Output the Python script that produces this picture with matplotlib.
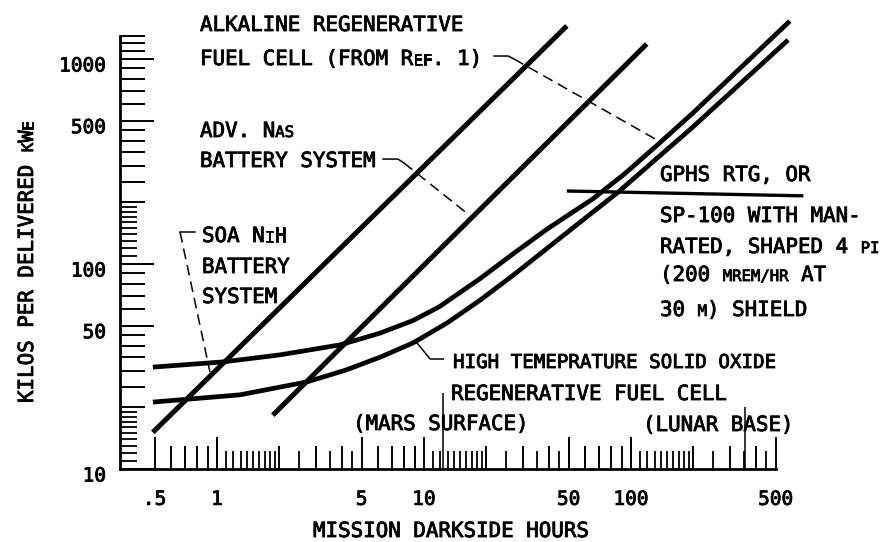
import numpy as np
import matplotlib
matplotlib.use('Agg')
import matplotlib.pyplot as plt
import matplotlib.patheffects as pe
from matplotlib.ticker import FixedLocator, NullFormatter, NullLocator
from matplotlib.transforms import ScaledTranslation

plt.rcParams['font.family'] = ['DejaVu Sans Mono', 'DejaVu Sans']

W, H, DPI = 890, 542, 100
ADV = 0.602   # advance of one glyph in DejaVu Sans Mono, in em
HEAVY = [pe.withStroke(linewidth=0.6, foreground='black')]

# ---- data (hours, kg per kWe) ----
nih_hours = [0.49, 49]
nih_kg = [15.1, 1450]

nas_hours = [1.86, 119]
nas_kg = [18.3, 1183]

alk_hours = [0.49, 1.07, 2.0, 3.93, 6.13, 8.85, 11.9, 18.7, 26.9, 39.3, 65.5,
             93, 133, 199, 585]
alk_kg = [31.4, 33.3, 36.0, 40.3, 46.0, 53.0, 62.0, 85.0, 112, 148, 208,
          275, 378, 545, 1531]

sofc_hours = [0.49, 1.29, 2.72, 4.2, 6.13, 8.85, 12.9, 18.7, 26.9, 56.8, 86.6,
              199, 574]
sofc_kg = [21.2, 23.0, 26.6, 30.4, 35.1, 41.2, 51.5, 66.7, 88.0, 160, 224,
           466, 1239]

gphs_hours = [49, 680]
gphs_kg = [227, 215]

mars_night = 12.3
lunar_night = 354

# ---- axis ticks ----
x_major = [0.5, 1, 5, 10, 50, 100, 500]
x_labels = ['.5', '1', '5', '10', '50', '100', '500']
x_mid = [0.6, 0.7, 0.8, 0.9, 2, 3, 4, 6, 7, 8, 9, 20, 30, 40, 60, 70, 80, 90,
         200, 300, 400]
x_short = [1.1, 1.2, 1.3, 1.4, 1.5, 1.6, 1.7, 1.8, 1.9, 2.5, 3.5, 4.5,
           11, 12, 13, 14, 15, 16, 17, 18, 19, 25, 35, 45,
           110, 120, 130, 140, 150, 160, 170, 180, 190, 250, 350, 450]

y_major = [10, 50, 100, 500, 1000]
y_labels = ['10', '50', '100', '500', '1000']
y_mid = [20, 25, 30, 35, 40, 45, 60, 70, 80, 90,
         200, 250, 300, 350, 400, 450, 600, 700, 800, 900, 1100, 1200, 1300]
y_short = [11, 12, 13, 14, 15, 16, 17, 18, 19,
           110, 120, 130, 140, 150, 160, 170, 180, 190]

PX = 72 / DPI   # points per pixel

fig = plt.figure(figsize=(W / DPI, H / DPI), dpi=DPI)
ax = fig.add_axes([120 / W, 1 - 469 / H, 750 / W, 464 / H])
ax.set_xscale('log')
ax.set_yscale('log')

line = dict(color='black', solid_joinstyle='round', solid_capstyle='butt')
ax.plot(nih_hours, nih_kg, lw=3.6, **line)
ax.plot(nas_hours, nas_kg, lw=3.6, **line)
ax.plot(alk_hours, alk_kg, lw=3.4, **line)
ax.plot(sofc_hours, sofc_kg, lw=3.4, **line)
ax.plot(gphs_hours, gphs_kg, lw=2.4, **line)

# mission markers
ax.vlines([mars_night], 10, 23.5, color='black', lw=1.1)
ax.vlines([lunar_night], 10, 20, color='black', lw=1.1)

# leaders
lead = dict(color='black', lw=1.1, clip_on=False)
dash = (0, (7, 4))
# alkaline
ax.plot([21.8, 25.5, 27.2], [1034, 1034, 1000], **lead)
ax.plot([27.2, 133.6], [1000, 402.6], ls=dash, **lead)
# NaS
ax.plot([6.34, 7.49, 8.0], [325, 325, 311], **lead)
ax.plot([8.0, 16.1], [311, 177], ls=dash, **lead)
# NiH
ax.plot([0.783, 0.663], [143, 143], **lead)
ax.plot([0.663, 0.925], [143, 29.7], ls=dash, **lead)
# SOFC
ax.plot([9.25, 10.7, 12.4], [41.2, 34.4, 34.4], **lead)

ax.set_xlim(0.34, 1427)
ax.set_ylim(10, 1834)

for s in ['top', 'right']:
    ax.spines[s].set_visible(False)
ax.spines['left'].set_bounds(10, 1300)
ax.spines['bottom'].set_bounds(0.34, 500)
ax.spines['left'].set_linewidth(2.0)
ax.spines['bottom'].set_linewidth(2.0)

ax.set_xticks(x_major, labels=x_labels)
ax.xaxis.set_minor_locator(FixedLocator(x_mid))
ax.xaxis.set_minor_formatter(NullFormatter())
ax.set_yticks(y_major, labels=y_labels)
ax.yaxis.set_minor_locator(FixedLocator(y_mid))
ax.yaxis.set_minor_formatter(NullFormatter())

ax.tick_params(axis='x', which='major', direction='in', length=32 * PX,
               width=1.4, pad=15, labelsize=14)
ax.tick_params(axis='x', which='minor', direction='in', length=23 * PX, width=1.4)
ax.tick_params(axis='y', which='major', direction='in', length=34 * PX,
               width=1.4, pad=10, labelsize=14)
ax.tick_params(axis='y', which='minor', direction='in', length=25 * PX, width=1.4)

# third, shorter set of ticks
sx = ax.secondary_xaxis('bottom')
sx.set_xticks(x_short)
sx.xaxis.set_major_formatter(NullFormatter())
sx.xaxis.set_minor_locator(NullLocator())
sx.tick_params(axis='x', which='major', direction='in', length=18 * PX, width=1.3)
sx.tick_params(axis='x', which='minor', length=0)
sx.spines['bottom'].set_visible(False)

sy = ax.secondary_yaxis('left')
sy.set_yticks(y_short)
sy.yaxis.set_major_formatter(NullFormatter())
sy.yaxis.set_minor_locator(NullLocator())
sy.tick_params(axis='y', which='major', direction='in', length=17 * PX, width=1.3)
sy.tick_params(axis='y', which='minor', length=0)
sy.spines['left'].set_visible(False)

shift = ScaledTranslation(0, -5 / DPI, fig.dpi_scale_trans)
for lab in ax.get_yticklabels():
    lab.set_transform(lab.get_transform() + shift)
    lab.set_path_effects(HEAVY)
for lab in ax.get_xticklabels():
    lab.set_path_effects(HEAVY)


def caps(x, y, parts, size=15, rot=0):
    # draw text with small capitals; x, y in image pixels (y = baseline from top)
    d = 0.0
    for s, small in parts:
        fs = size * 0.75 if small else size
        if rot == 0:
            fig.text((x + d) / W, 1 - y / H, s, fontsize=fs,
                     va='baseline', ha='left', path_effects=HEAVY)
        else:
            fig.text(x / W, 1 - (y - d) / H, s, fontsize=fs, va='baseline',
                     ha='left', rotation=90, rotation_mode='anchor',
                     path_effects=HEAVY)
        d += len(s) * ADV * fs * DPI / 72


caps(200, 31, [('ALKALINE REGENERATIVE', False)])
caps(200, 65, [('FUEL CELL (FROM R', False), ('EF', True), ('. 1)', False)])
caps(200, 137, [('ADV. N', False), ('AS', True)])
caps(200, 167, [('BATTERY SYSTEM', False)])
caps(202, 242, [('SOA N', False), ('I', True), ('H', False)])
caps(202, 273, [('BATTERY', False)])
caps(202, 303, [('SYSTEM', False)])
caps(660, 181, [('GPHS RTG, OR', False)])
caps(660, 222, [('SP-100 WITH MAN-', False)])
caps(660, 253, [('RATED, SHAPED 4 ', False), ('PI', True)])
caps(660, 281, [('(200 ', False), ('MREM/HR', True), (' AT', False)])
caps(660, 316, [('30 ', False), ('M', True), (') SHIELD', False)])
caps(453, 368, [('HIGH TEMEPRATURE SOLID OXIDE', False)], size=13.8)
caps(451, 400, [('REGENERATIVE FUEL CELL', False)])
caps(353, 430, [('(MARS SURFACE)', False)])
caps(643, 431, [('(LUNAR BASE)', False)])

caps(313, 537, [('MISSION DARKSIDE HOURS', False)])
caps(33, 403, [('KILOS PER DELIVERED ', False), ('K', True), ('W', False),
               ('E', True)], rot=90)

fig.savefig('out.png', dpi=DPI)
